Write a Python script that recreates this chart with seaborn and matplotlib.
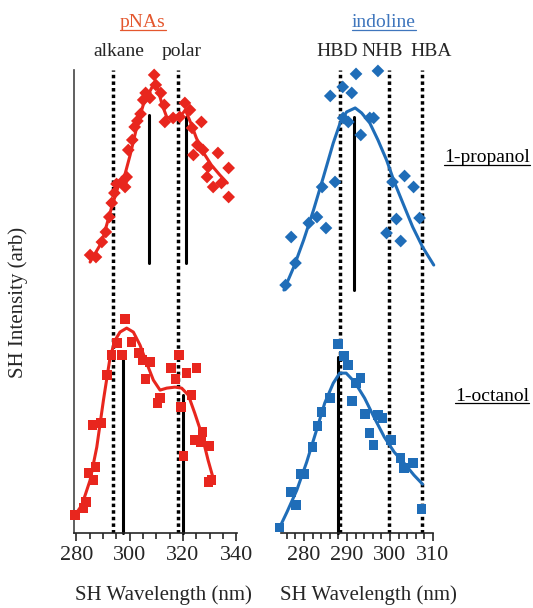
import matplotlib
matplotlib.use("Agg")
import matplotlib.pyplot as plt
import seaborn as sns
from matplotlib.lines import Line2D
from matplotlib.ticker import MultipleLocator

# pNAs, 1-propanol (diamonds) + fit
pna_prop_x = [285.2, 287.4, 289.6, 291.1, 292.4, 293.3, 294.3, 295.1, 297.1, 298.3, 298.9, 299.5, 301.0,
              301.9, 302.9, 304.1, 305.1, 306.0, 307.6, 309.2, 309.8, 311.7, 313.0, 313.2, 316.3, 318.8,
              320.7, 322.6, 323.4, 326.9, 325.4, 323.9, 327.5, 333.1, 329.4, 329.0, 331.3, 334.4, 337.1, 337.1]
pna_prop_y = [2.78, 2.76, 2.91, 3.01, 3.16, 3.30, 3.40, 3.49, 3.51, 3.46, 3.56, 3.83, 3.93,
              4.06, 4.12, 4.19, 4.33, 4.40, 4.35, 4.58, 4.48, 4.40, 4.28, 4.11, 4.15, 4.16,
              4.30, 4.23, 4.05, 4.11, 3.88, 3.78, 3.83, 3.80, 3.66, 3.56, 3.46, 3.50, 3.65, 3.36]
pna_prop_fit_x = [285.2, 289.6, 293.3, 295.9, 297.7, 300.2, 302.7, 305.1, 307.3, 309.2, 310.7, 312.2,
                  313.9, 316.3, 318.8, 320.9, 322.9, 325.0, 327.5, 330.6, 333.8, 336.6]
pna_prop_fit_y = [2.71, 2.91, 3.26, 3.48, 3.53, 3.78, 4.06, 4.28, 4.40, 4.50, 4.43, 4.28,
                  4.16, 4.14, 4.16, 4.23, 4.10, 3.95, 3.81, 3.68, 3.58, 3.50]

# pNAs, 1-octanol (squares) + fit
pna_oct_x = [279.6, 282.7, 283.6, 284.6, 286.5, 287.3, 286.1, 289.3, 291.5, 293.3, 295.2, 297.1, 298.3,
             300.8, 303.5, 304.8, 307.6, 306.0, 311.4, 310.5, 315.5, 317.2, 318.5, 321.3, 325.0, 323.2,
             319.2, 320.1, 324.4, 326.7, 327.2, 330.0, 329.6, 330.6]
pna_oct_y = [0.18, 0.25, 0.31, 0.60, 0.53, 0.66, 1.08, 1.10, 1.58, 1.78, 1.90, 1.78, 2.14,
             1.91, 1.80, 1.73, 1.71, 1.54, 1.35, 1.30, 1.65, 1.54, 1.78, 1.60, 1.65, 1.38,
             1.26, 0.77, 0.93, 0.91, 1.01, 0.87, 0.51, 0.53]
pna_oct_fit_x = [279.0, 282.1, 285.2, 287.7, 290.2, 292.7, 294.6, 296.4, 298.9, 301.4, 303.9, 306.4,
                 308.9, 311.4, 313.9, 317.0, 319.5, 322.0, 324.4, 326.9, 329.4, 331.3]
pna_oct_fit_y = [0.16, 0.28, 0.53, 0.86, 1.33, 1.76, 1.93, 2.01, 2.05, 2.01, 1.88, 1.70,
                 1.53, 1.43, 1.45, 1.46, 1.45, 1.38, 1.20, 1.00, 0.73, 0.55]

# indoline, 1-propanol
ind_prop_x = [275.7, 278.0, 277.0, 281.1, 283.0, 285.1, 284.2, 287.2, 286.1, 289.0, 291.1, 292.1, 289.1,
              290.3, 293.2, 295.3, 296.2, 297.2, 300.6, 303.4, 305.5, 301.5, 299.2, 302.5, 306.9]
ind_prop_y = [2.48, 2.70, 2.96, 3.10, 3.16, 3.05, 3.46, 3.51, 4.37, 4.46, 4.40, 4.59, 4.15,
              4.11, 3.98, 4.15, 4.15, 4.62, 3.51, 3.57, 3.46, 3.14, 3.00, 2.92, 3.15]
ind_prop_fit_x = [275.3, 277.6, 279.9, 282.2, 284.5, 286.8, 288.4, 289.9, 291.9, 293.4, 295.3, 297.2,
                  299.2, 301.1, 303.0, 305.3, 307.6, 310.2]
ind_prop_fit_y = [2.43, 2.66, 2.93, 3.23, 3.56, 3.90, 4.10, 4.21, 4.25, 4.20, 4.10, 3.93,
                  3.73, 3.50, 3.30, 3.06, 2.86, 2.68]

# indoline, 1-octanol
ind_oct_x = [274.3, 277.0, 278.1, 279.1, 280.1, 282.0, 283.1, 284.1, 286.0, 287.9, 289.3, 290.2, 291.2,
             292.1, 293.2, 294.2, 295.2, 296.2, 297.2, 298.3, 300.2, 302.5, 303.3, 305.4, 307.3]
ind_oct_y = [0.06, 0.41, 0.28, 0.59, 0.59, 0.86, 1.07, 1.21, 1.35, 1.89, 1.77, 1.68, 1.32,
             1.50, 1.55, 1.19, 1.00, 0.88, 1.18, 1.15, 0.93, 0.75, 0.65, 0.70, 0.24]
ind_oct_fit_x = [274.0, 276.0, 278.3, 280.6, 282.9, 284.8, 286.8, 288.3, 289.8, 291.8, 294.1, 296.4,
                 298.7, 301.0, 303.3, 305.6, 307.6]
ind_oct_fit_y = [0.03, 0.21, 0.43, 0.71, 1.03, 1.30, 1.50, 1.60, 1.60, 1.51, 1.35, 1.15,
                 0.96, 0.81, 0.70, 0.58, 0.49]

# reference (dotted) lines and their labels
pna_ref = [293.9, 318.2]
pna_ref_labels = ["alkane", "polar"]
pna_ref_label_x = [296.1, 319.6]
ind_ref = [288.4, 299.8, 307.5]
ind_ref_labels = ["HBD", "NHB", "HBA"]
ind_ref_label_x = [287.7, 298.1, 309.6]

# peak positions (solid black): (x, ymin, ymax)
pna_peaks = [(307.4, 2.70, 4.18), (321.0, 2.70, 4.16), (297.7, 0.0, 1.78), (320.0, 0.0, 1.38)]
ind_peaks = [(291.6, 2.43, 4.16), (287.8, 0.0, 1.76)]

red = "#e8261e"
blue = "#1f6db8"

sns.set_style("ticks")
plt.rcParams["font.family"] = ["Liberation Serif", "DejaVu Serif"]

fig = plt.figure(figsize=(5.33, 6.08), dpi=100)
ax1 = fig.add_axes([0.139, 0.123, 0.306, 0.762])
ax2 = fig.add_axes([0.527, 0.123, 0.286, 0.762])

def panel(ax, px, py, pfx, pfy, ox, oy, ofx, ofy, color, refs, peaks):
    for r in refs:
        ax.axvline(r, color="black", lw=2.5, linestyle=(0, (1.0, 0.9)), zorder=1)
    for x, y0, y1 in peaks:
        ax.plot([x, x], [y0, y1], color="black", lw=2.2, zorder=2, clip_on=False)
    sns.lineplot(x=pfx, y=pfy, ax=ax, color=color, lw=2.2, zorder=3, clip_on=False)
    sns.lineplot(x=ofx, y=ofy, ax=ax, color=color, lw=2.2, zorder=3, clip_on=False)
    sns.scatterplot(x=px, y=py, ax=ax, color=color, marker="D", s=42, edgecolor="none",
                    zorder=4, clip_on=False)
    sns.scatterplot(x=ox, y=oy, ax=ax, color=color, marker="s", s=46, edgecolor="none",
                    zorder=4, clip_on=False)
    ax.set_ylim(0, 4.63)
    ax.set_yticks([])
    ax.set_ylabel("")
    sns.despine(ax=ax, top=True, right=True)
    ax.tick_params(axis="x", which="major", length=6, width=1.2, labelsize=16, pad=3)
    ax.tick_params(axis="x", which="minor", length=4, width=1.2)
    ax.spines["bottom"].set_linewidth(1.2)
    ax.set_xlabel("SH Wavelength (nm)", fontsize=15)

panel(ax1, pna_prop_x, pna_prop_y, pna_prop_fit_x, pna_prop_fit_y,
      pna_oct_x, pna_oct_y, pna_oct_fit_x, pna_oct_fit_y, red, pna_ref, pna_peaks)
panel(ax2, ind_prop_x, ind_prop_y, ind_prop_fit_x, ind_prop_fit_y,
      ind_oct_x, ind_oct_y, ind_oct_fit_x, ind_oct_fit_y, blue, ind_ref, ind_peaks)

ax1.set_xlim(279.2, 340.3)
ax1.xaxis.set_major_locator(MultipleLocator(20))
ax1.xaxis.set_minor_locator(MultipleLocator(5))
ax1.spines["left"].set_color("#444444")
ax1.spines["left"].set_linewidth(1.2)
ax1.xaxis.set_label_coords(0.546, -0.112)

ax2.set_xlim(274.6, 310.1)
ax2.xaxis.set_major_locator(MultipleLocator(10))
ax2.xaxis.set_minor_locator(MultipleLocator(2))
ax2.spines["left"].set_visible(False)
ax2.xaxis.set_label_coords(0.575, -0.112)

for ax, labs, lx in [(ax1, pna_ref_labels, pna_ref_label_x), (ax2, ind_ref_labels, ind_ref_label_x)]:
    for t, x in zip(labs, lx):
        ax.text(x, 4.81, t, ha="center", va="center", fontsize=14, clip_on=False)

fig.text(0.034, 0.503, "SH Intensity (arb)", rotation=90, ha="center", va="center", fontsize=15)

renderer = fig.canvas.get_renderer()

def underlined(x, y, s, color="black", size=14):
    t = fig.text(x, y, s, ha="center", va="baseline", fontsize=size, color=color)
    bb = t.get_window_extent(renderer=renderer).transformed(fig.transFigure.inverted())
    fig.add_artist(Line2D([bb.x0, bb.x1], [y - 2.5 / 608, y - 2.5 / 608], color=color, lw=0.9))

underlined(0.268, 0.955, "pNAs", color="#e4572e")
underlined(0.720, 0.955, "indoline", color="#3f76bd")
underlined(0.914, 0.733, "1-propanol")
underlined(0.923, 0.341, "1-octanol")

fig.savefig("out.png", dpi=100)
